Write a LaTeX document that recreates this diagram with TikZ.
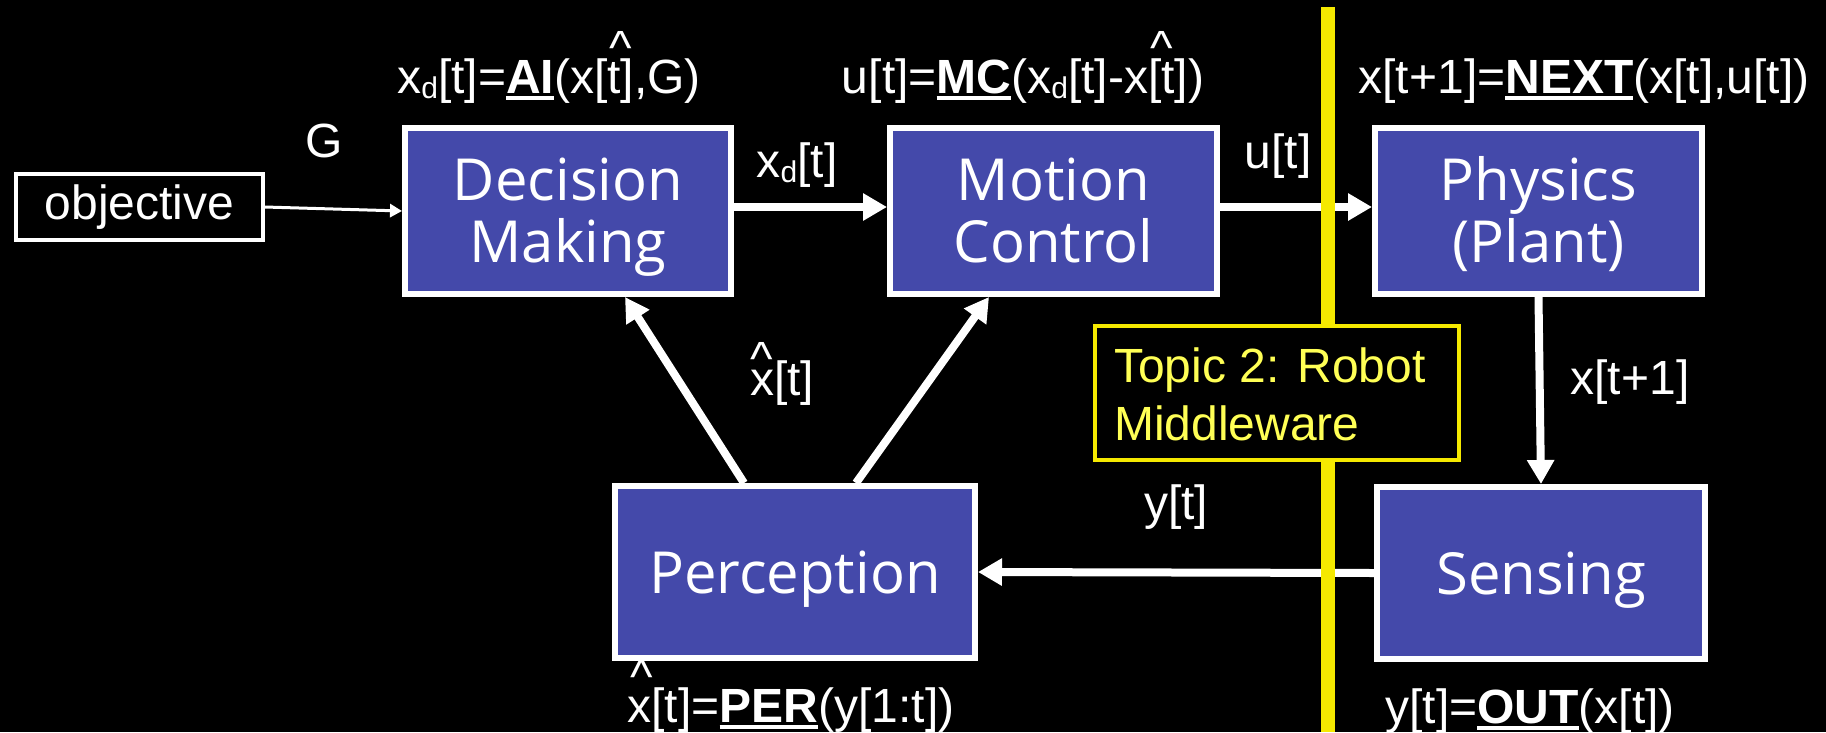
\documentclass[tikz,border=0pt]{standalone}
\usepackage{fontspec}
\setmainfont{Liberation Sans}
\newfontfamily\boxfont{Open Sans}
\usetikzlibrary{arrows.meta}
\definecolor{boxblue}{RGB}{68,73,170}
\definecolor{ylw}{RGB}{245,233,0}
\definecolor{ytext}{RGB}{255,255,85}
% #1 xshift, #2 raise, #3 content
\newcommand\hatt[3][0pt]{\setbox0\hbox{#3}\rlap{\hbox to \wd0{\hss\kern#1\raisebox{#2}{\textasciicircum}\hss}}\box0}
\newcommand\ulb[1]{\setbox2\hbox{\bfseries #1}\rlap{\rule[-7pt]{\wd2}{4pt}}\box2}
\newcommand\sbd[1]{\raisebox{-5pt}{\fontsize{30}{30}\selectfont #1}}
\newcommand\toph[1]{\rule{0pt}{#1}}
\newcommand\botd[1]{\rule[-#1]{0pt}{#1}}
\begin{document}
\begin{tikzpicture}[x=1pt,y=-1pt,
  blk/.style={draw=white, line width=6pt, fill=boxblue, text=white,
    font=\boxfont\fontsize{58}{62}\selectfont, align=center, inner sep=0pt},
  lbl/.style={text=white, font=\fontsize{48}{56}\selectfont, anchor=base, inner sep=0pt},
  flow/.style={draw=white, line width=8pt, -{Triangle[width=26pt,length=24pt]}},
  thinflow/.style={draw=white, line width=3pt, -{Triangle[width=13pt,length=12pt]}},
]
\fill[black] (0,0) rectangle (1826,732);
\useasboundingbox (0,0) rectangle (1826,732);

% blocks
\node[blk, minimum width=326pt, minimum height=166pt] (dec) at (568,211) {\toph{55pt}Decision\\Making\botd{15pt}};
\node[blk, minimum width=327pt, minimum height=166pt] (mot) at (1053.5,211) {\toph{55pt}Motion\\Control\botd{15pt}};
\node[blk, minimum width=327pt, minimum height=166pt] (phy) at (1538.5,211) {\toph{55pt}Physics\\(Plant)\botd{15pt}};
\node[blk, minimum width=360pt, minimum height=172pt] (per) at (795,572) {\toph{57pt}Perception\botd{15pt}};
\node[blk, minimum width=328pt, minimum height=172pt] (sen) at (1541,573) {\toph{58pt}Sensing\botd{15pt}};
\node[draw=white, line width=3.5pt, text=white, font=\fontsize{48}{56}\selectfont,
  minimum width=247pt, minimum height=66pt, inner sep=0pt] (obj) at (139.5,207) {objective};

% connectors
\draw[thinflow] (obj.east) -- (dec.west);
\draw[flow] ([yshift=4pt]dec.east) -- ([yshift=4pt]mot.west);
\draw[flow] ([yshift=4pt]mot.east) -- ([yshift=4pt]phy.west);
\draw[flow] (phy.south) -- (sen.north);
\draw[flow] (sen.west) -- (per.east);
\draw[flow] ([xshift=-51pt]per.north) -- ([xshift=57pt]dec.south);
\draw[flow] ([xshift=61pt]per.north) -- ([xshift=-64.5pt]mot.south);

% middleware line and box
\coordinate (ltop) at (1328,7);
\coordinate (lbot) at (1328,732);
\draw[ylw, line width=14pt] (ltop) -- (lbot);
\node[draw=ylw, line width=4.5pt, fill=black, minimum width=364pt, minimum height=134pt, inner sep=0pt] (mw) at (1277,393) {};
\node[text=ytext, font=\fontsize{48}{58}\selectfont, align=left, anchor=west, inner sep=0pt] (mwt) at (1114,394) {Topic 2: Robot\\Middleware};

% equations
\node[lbl] (eqai) at (549,93) {x\sbd{d}[t]=\ulb{AI}(x[\hatt[0pt]{0.6em}{t]},G)};
\node[lbl] (eqmc) at (1023,93) {u[t]=\ulb{MC}(x\sbd{d}[t]-x\hatt{0.6em}{[t}])};
\node[lbl] (eqnx) at (1584,93) {x[t+1]=\ulb{NEXT}(x[t],u[t])};
\node[lbl] (eqper) at (791,722) {\hatt[5pt]{0.6em}{x}[t]=\ulb{PER}(y[1:t])};
\node[lbl] (eqout) at (1530,723) {y[t]=\ulb{OUT}(x[t])};

% signal labels
\node[lbl] (lg) at (324,157) {G};
\node[lbl] (lxd) at (797,177) {x\sbd{d}[t]};
\node[lbl] (lu) at (1278,168) {u[t]};
\node[lbl] (lxh) at (782,395) {\hatt{0.4em}{x}[t]};
\node[lbl] (lx1) at (1630,394) {x[t+1]};
\node[lbl] (ly) at (1176,519) {y[t]};
\end{tikzpicture}
\end{document}
